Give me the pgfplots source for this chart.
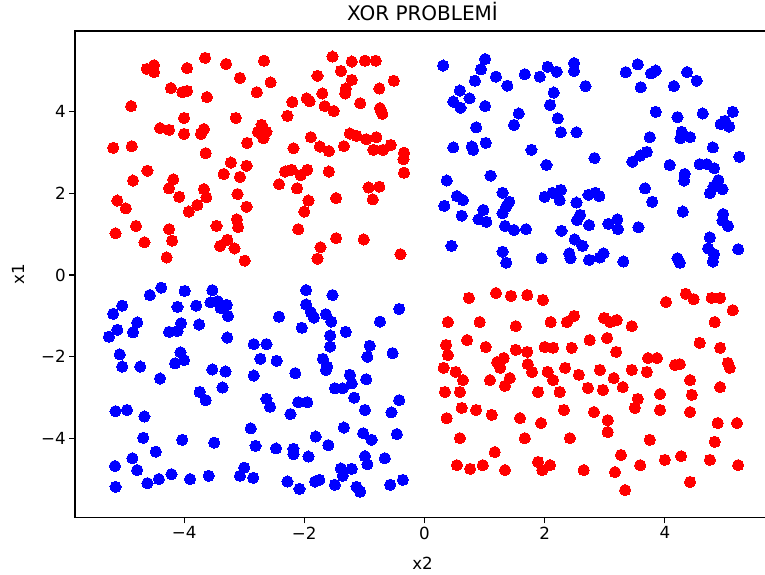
\documentclass[border=0pt]{standalone}
\usepackage{pgfplots}
\pgfplotsset{compat=1.18}
\usepackage{fontspec}
\setmainfont{DejaVu Sans}
\begin{document}
\begin{tikzpicture}
\begin{axis}[
  scale only axis,
  width=695bp, height=486.5bp,
  xmin=-5.815, xmax=5.75, ymin=-5.93, ymax=5.966,
  xtick={-4,-2,0,2,4}, xticklabels={−4,−2,0,2,4},
  ytick={-4,-2,0,2,4}, yticklabels={−4,−2,0,2,4},
  xtick pos=bottom, ytick pos=left,
  tick align=outside, major tick length=5.8bp,
  tick style={black, line width=1.1bp},
  axis line style={black, line width=1.1bp},
  ticklabel style={font=\fontsize{16.7bp}{20bp}\selectfont},
  label style={font=\fontsize{16.7bp}{20bp}\selectfont},
  title style={font=\fontsize{20bp}{24bp}\selectfont, at={(rel axis cs:0.5,1)}, anchor=base, yshift=5bp},
  title={XOR PROBLEMİ},
  xlabel={x2}, ylabel={x1},
  xlabel style={at={(rel axis cs:0.5,0)}, anchor=center, yshift=-45.5bp},
  ylabel style={at={([xshift=-57bp]rel axis cs:0,0.5)}, anchor=center},
  clip=false,
]
\addplot[only marks, mark=*, mark size=5.6bp, mark options={draw=red, fill=red, line width=0pt}] table {
x y
-4.62 5.04
-4.50 5.13
-4.50 4.96
-3.95 5.06
-3.65 5.31
-3.30 5.16
-3.07 4.82
-2.79 4.47
-4.22 4.57
-4.03 4.47
-3.95 4.50
-3.62 4.35
-4.88 4.13
-4.00 3.84
-3.14 3.84
-4.40 3.59
-4.25 3.55
-4.00 3.45
-3.72 3.45
-3.67 3.57
-2.95 3.23
-5.18 3.11
-4.87 3.15
-3.64 2.98
-2.67 5.24
-2.56 4.71
-1.53 5.34
-1.21 5.22
-0.99 5.24
-0.81 5.24
-1.39 4.99
-1.78 4.87
-1.21 4.77
-0.51 4.75
-1.31 4.56
-1.32 4.44
-0.75 4.56
-1.70 4.44
-2.20 4.23
-1.96 4.32
-1.91 4.25
-1.66 4.13
-1.51 4.01
-1.07 4.20
-0.74 4.08
-0.70 3.94
-2.28 3.89
-2.71 3.67
-2.77 3.50
-2.63 3.50
-2.68 3.34
-1.89 3.37
-2.18 3.10
-1.74 3.14
-1.59 3.03
-1.34 3.15
-1.24 3.46
-1.13 3.40
-0.97 3.32
-0.80 3.37
-0.85 3.06
-0.69 3.06
-0.56 3.18
-0.34 2.99
-0.35 2.83
-2.32 2.53
-2.21 2.57
-2.06 2.44
-1.95 2.57
-1.59 2.53
-2.42 2.22
-2.12 2.12
-1.47 1.88
-0.93 2.14
-0.75 2.16
-0.86 1.85
-0.34 2.50
-1.93 1.82
-2.00 1.55
-2.10 1.12
-1.47 0.90
-1.01 0.87
-1.73 0.68
-1.78 0.40
-0.40 0.51
-3.22 2.75
-2.96 2.67
-4.61 2.55
-4.85 2.31
-3.34 2.47
-3.07 2.40
-4.18 2.34
-4.25 2.12
-4.08 1.91
-3.67 2.10
-3.63 1.90
-3.78 1.71
-3.92 1.55
-3.11 1.98
-2.96 1.67
-5.11 1.82
-4.97 1.63
-4.80 1.20
-5.14 1.02
-4.66 0.80
-4.25 1.12
-4.20 0.84
-3.46 1.20
-3.12 1.36
-3.10 1.17
-3.28 0.86
-3.40 0.71
-3.16 0.65
-4.29 0.43
-2.99 0.35
0.74 -0.56
1.19 -0.44
1.44 -0.51
1.71 -0.49
1.97 -0.61
4.02 -0.66
4.35 -0.46
4.48 -0.59
4.78 -0.56
4.92 -0.56
5.13 -0.86
0.39 -1.15
0.92 -1.15
1.52 -1.25
2.10 -1.15
2.37 -1.15
2.49 -1.00
2.99 -1.05
3.09 -1.15
3.20 -1.10
3.45 -1.25
4.83 -1.15
0.36 -1.71
0.39 -1.96
0.71 -1.59
1.02 -1.76
1.32 -2.03
1.52 -1.83
1.71 -1.88
2.00 -1.76
2.14 -1.78
2.45 -1.78
2.75 -1.59
3.04 -1.54
3.19 -1.88
3.72 -2.03
3.87 -2.03
4.58 -1.66
4.92 -1.78
5.08 -2.27
0.32 -2.27
0.52 -2.37
0.64 -2.57
1.21 -2.13
1.26 -2.27
1.42 -2.52
1.72 -2.18
1.79 -2.37
2.05 -2.37
2.14 -2.57
2.34 -2.27
2.57 -2.44
2.92 -2.32
3.15 -2.52
3.45 -2.32
3.70 -2.37
4.17 -2.20
4.25 -2.18
4.42 -2.57
5.05 -2.15
0.34 -2.86
0.59 -2.86
1.09 -2.57
1.34 -2.71
1.89 -2.86
2.25 -2.86
2.72 -2.76
2.97 -2.81
3.30 -2.74
3.55 -3.03
3.92 -2.91
4.45 -2.93
4.92 -2.74
0.37 -3.50
0.62 -3.25
0.86 -3.30
1.12 -3.42
1.59 -3.50
1.94 -3.62
2.32 -3.30
2.82 -3.35
3.05 -3.55
3.50 -3.25
3.92 -3.30
4.42 -3.35
4.88 -3.62
5.20 -3.62
0.59 -3.99
1.17 -4.33
1.67 -3.99
2.42 -3.99
3.05 -3.84
3.27 -4.40
3.75 -4.03
4.00 -4.52
4.27 -4.43
4.83 -4.08
0.54 -4.65
0.76 -4.74
0.97 -4.65
1.34 -4.77
1.89 -4.57
1.96 -4.77
2.09 -4.65
2.65 -4.77
3.17 -4.82
3.59 -4.65
4.42 -5.06
4.75 -4.52
5.22 -4.65
3.34 -5.26
};
\addplot[only marks, mark=*, mark size=5.6bp, mark options={draw=blue, fill=blue, line width=0pt}] table {
x y
0.31 5.12
1.01 5.28
0.94 5.03
0.84 4.75
1.19 4.85
1.38 4.63
1.67 4.91
1.92 4.85
2.05 5.09
2.20 4.97
2.49 5.18
2.49 4.99
2.68 4.62
0.59 4.51
0.75 4.32
0.48 4.24
0.60 4.09
1.01 4.13
2.15 4.46
2.09 4.16
1.57 3.95
1.49 3.67
2.22 3.83
2.27 3.49
2.53 3.49
0.86 3.61
0.48 3.12
0.79 3.14
0.81 3.06
1.02 3.23
1.78 3.06
2.83 2.86
3.35 4.96
3.55 5.15
3.77 4.93
3.85 5.00
3.60 4.59
4.15 4.62
4.37 4.96
4.53 4.75
3.85 3.99
4.21 3.86
4.63 3.95
5.13 3.99
4.93 3.69
5.00 3.77
5.07 3.63
3.75 3.37
4.28 3.50
4.26 3.34
4.42 3.37
4.80 3.12
3.70 3.01
3.59 2.92
5.24 2.89
3.46 2.77
4.08 2.69
4.33 2.47
4.32 2.31
4.58 2.71
4.70 2.71
4.82 2.61
4.89 2.32
4.81 2.16
4.75 2.00
4.96 2.10
2.84 2.01
2.91 1.93
3.67 2.12
3.79 1.79
4.30 1.55
4.97 1.49
4.96 1.33
5.05 1.20
3.06 1.25
3.21 1.36
3.22 1.12
3.56 1.17
4.75 0.92
4.72 0.65
4.82 0.51
4.80 0.33
5.22 0.63
2.98 0.53
2.92 0.43
3.31 0.33
4.21 0.41
4.25 0.30
2.03 2.69
1.10 2.43
0.37 2.31
1.30 2.01
0.54 1.93
0.64 1.83
0.33 1.69
1.41 1.79
1.36 1.67
1.30 1.51
2.00 1.91
2.13 2.01
2.27 2.08
2.25 1.83
2.53 1.77
2.73 1.96
0.62 1.45
0.98 1.59
0.90 1.36
1.03 1.30
2.59 1.47
2.54 1.34
2.74 1.22
1.34 1.20
1.49 1.10
1.69 1.12
2.28 1.08
2.50 0.87
2.63 0.71
0.45 0.71
1.30 0.57
1.36 0.30
1.95 0.41
2.41 0.53
2.43 0.41
2.74 0.37
-4.38 -0.31
-4.57 -0.49
-3.99 -0.39
-3.53 -0.37
-5.03 -0.75
-5.18 -0.95
-3.56 -0.67
-3.44 -0.64
-3.39 -0.81
-3.29 -0.73
-3.27 -1.00
-4.11 -0.78
-3.80 -0.75
-4.78 -1.16
-4.85 -1.40
-5.11 -1.34
-5.25 -1.51
-4.05 -1.18
-4.11 -1.37
-4.25 -1.39
-3.75 -1.21
-3.28 -1.53
-5.07 -1.94
-4.06 -1.89
-4.00 -2.08
-4.15 -2.16
-5.03 -2.24
-4.73 -2.24
-4.40 -2.53
-3.53 -2.31
-3.31 -2.36
-3.36 -2.75
-3.74 -2.86
-3.64 -3.06
-1.97 -0.37
-1.53 -0.49
-1.97 -0.72
-1.89 -0.91
-1.84 -1.04
-1.64 -0.96
-1.55 -1.14
-2.42 -1.02
-2.04 -1.29
-0.42 -0.83
-0.74 -1.14
-1.31 -1.39
-1.57 -1.48
-1.57 -1.75
-0.91 -1.73
-0.95 -2.00
-0.53 -1.91
-2.84 -1.69
-2.63 -1.69
-2.73 -2.05
-2.46 -2.10
-1.69 -2.05
-1.62 -2.24
-1.64 -2.32
-2.84 -2.46
-2.15 -2.40
-1.24 -2.44
-1.21 -2.65
-1.49 -2.77
-1.36 -2.77
-0.97 -2.55
-5.14 -3.33
-4.95 -3.30
-4.66 -3.46
-4.68 -3.98
-4.03 -4.03
-3.50 -4.10
-2.89 -3.75
-2.81 -4.18
-4.47 -4.32
-4.86 -4.48
-4.78 -4.77
-5.15 -4.67
-5.14 -5.18
-4.61 -5.09
-4.42 -4.99
-4.21 -4.87
-3.90 -4.99
-3.59 -4.91
-3.00 -4.71
-3.07 -4.91
-2.85 -4.96
-2.63 -3.03
-2.57 -3.22
-2.10 -3.11
-1.95 -3.11
-2.23 -3.40
-1.17 -3.00
-0.99 -3.30
-0.42 -3.06
-0.55 -3.36
-1.34 -3.73
-1.81 -3.95
-1.60 -4.16
-1.02 -3.87
-0.88 -4.03
-0.46 -3.89
-2.47 -4.24
-2.18 -4.25
-2.18 -4.38
-1.93 -4.44
-0.99 -4.43
-0.95 -4.63
-0.66 -4.48
-1.39 -4.73
-1.36 -4.91
-1.21 -4.74
-2.28 -5.05
-2.08 -5.23
-1.82 -5.05
-1.75 -5.01
-1.49 -5.13
-1.13 -5.18
-1.07 -5.30
-0.57 -5.13
-0.36 -5.01
};
\end{axis}
\pgfresetboundingbox
\path ([xshift=-75bp,yshift=-57.5bp]current axis.south west) rectangle ([xshift=690bp,yshift=31bp]current axis.north west);
\end{tikzpicture}
\end{document}
